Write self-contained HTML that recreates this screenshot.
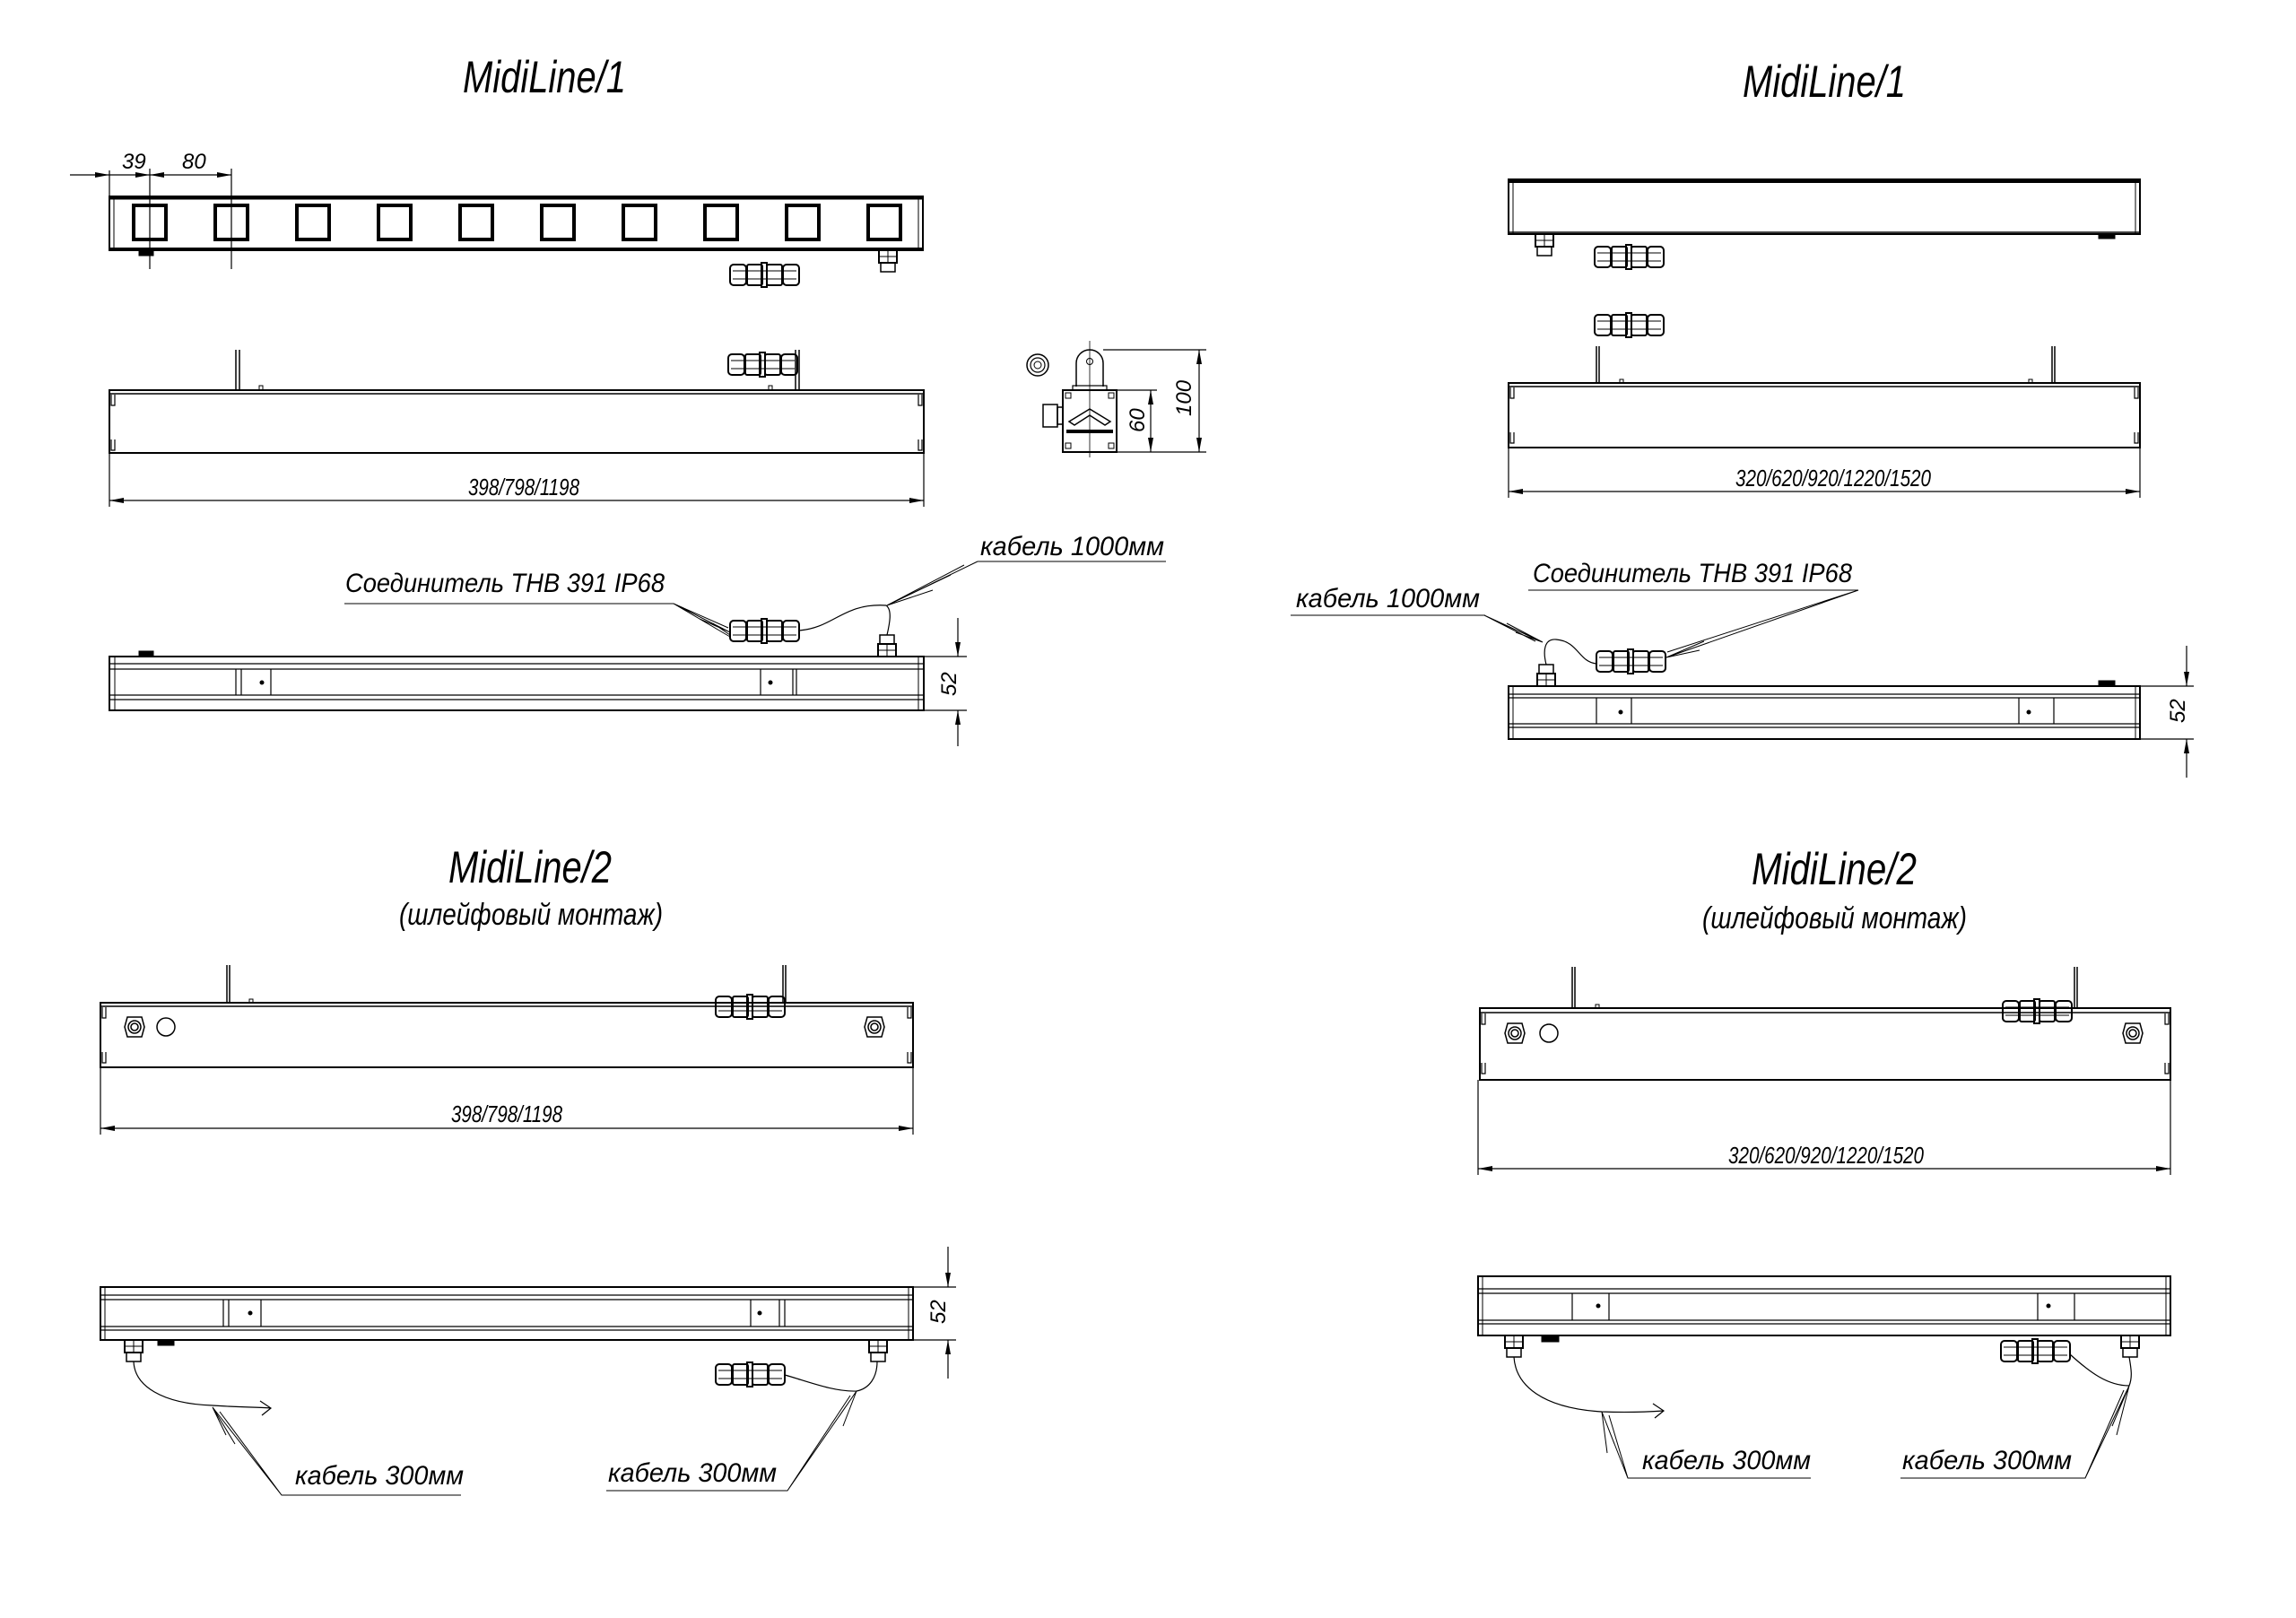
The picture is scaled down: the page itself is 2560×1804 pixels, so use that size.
<!DOCTYPE html>
<html><head><meta charset="utf-8"><style>
html,body{margin:0;padding:0;background:#fff;}
svg{display:block;}
text{font-family:"Liberation Sans Narrow","Liberation Sans",sans-serif;font-style:italic;fill:#000;}
</style></head><body>
<svg width="2560" height="1804" viewBox="0 0 2560 1804" xmlns="http://www.w3.org/2000/svg">
<defs>
<marker id="ar" viewBox="0 0 16 6" refX="16" refY="3" markerWidth="16" markerHeight="6" markerUnits="userSpaceOnUse" orient="auto-start-reverse"><path d="M0,0 L16,3 L0,6 z" fill="#000"/></marker>
<g id="conn" fill="none" stroke="#000">
<rect x="0" y="2" width="18" height="23" rx="4" stroke-width="2"/>
<rect x="19" y="2" width="17" height="23" rx="2" stroke-width="2"/>
<rect x="35" y="0" width="6" height="27" stroke-width="2"/>
<rect x="41" y="2" width="17" height="23" rx="2" stroke-width="2"/>
<rect x="59" y="2" width="18" height="23" rx="4" stroke-width="2"/>
<path d="M3,9H74M3,18H74" stroke-width="1"/>
</g>
<g id="gland" fill="none" stroke="#000">
<rect x="2" y="0" width="16" height="10" stroke-width="1.5"/>
<rect x="0" y="10" width="20" height="14" stroke-width="2"/>
<path d="M0,17H20M10,10V24" stroke-width="1"/>
</g>
<g id="glandU" fill="none" stroke="#000">
<rect x="0" y="0" width="20" height="14" stroke-width="2"/>
<rect x="2" y="14" width="16" height="10" stroke-width="1.5"/>
<path d="M0,7H20M10,0V14" stroke-width="1"/>
</g>
<g id="nut" fill="none" stroke="#000" stroke-width="1.5">
<polygon points="-8,-11 8,-11 11,0 8,11 -8,11 -11,0"/>
<circle r="7"/><circle r="4"/>
</g>
</defs>
<g fill="none" stroke="#000">

<!-- ============ Q1 ============ -->
<text x="516" y="103" font-size="50" textLength="182" lengthAdjust="spacingAndGlyphs" stroke="none">MidiLine/1</text>
<rect x="122" y="219" width="907" height="60" stroke-width="2"/>
<line x1="122" y1="221" x2="1029" y2="221" stroke-width="3"/>
<line x1="122" y1="277" x2="1029" y2="277" stroke-width="2"/>
<line x1="127" y1="219" x2="127" y2="279" stroke-width="1"/>
<line x1="1024" y1="219" x2="1024" y2="279" stroke-width="1"/>
<g stroke-width="4">
<rect x="149" y="229" width="36" height="38"/><rect x="240" y="229" width="36" height="38"/><rect x="331" y="229" width="36" height="38"/><rect x="422" y="229" width="36" height="38"/><rect x="513" y="229" width="36" height="38"/><rect x="604" y="229" width="36" height="38"/><rect x="695" y="229" width="36" height="38"/><rect x="786" y="229" width="36" height="38"/><rect x="877" y="229" width="36" height="38"/><rect x="968" y="229" width="36" height="38"/>
</g>
<rect x="155" y="279" width="16" height="6" fill="#000" stroke-width="1"/>
<use href="#glandU" x="980" y="279"/>
<use href="#conn" x="814" y="293"/>
<g stroke-width="1.2">
<line x1="78" y1="195" x2="122" y2="195" marker-end="url(#ar)"/>
<line x1="122" y1="195" x2="167" y2="195" marker-end="url(#ar)"/>
<line x1="210" y1="195" x2="167" y2="195" marker-end="url(#ar)"/>
<line x1="210" y1="195" x2="258" y2="195" marker-end="url(#ar)"/>
<line x1="122" y1="190" x2="122" y2="219"/>
<line x1="167" y1="188" x2="167" y2="300"/>
<line x1="258" y1="188" x2="258" y2="300"/>
</g>
<text x="136" y="188" font-size="24" stroke="none">39</text>
<text x="203" y="188" font-size="24" stroke="none">80</text>

<rect x="122" y="435" width="908" height="70" stroke-width="2"/>
<line x1="122" y1="439" x2="1030" y2="439" stroke-width="1.5"/>
<path d="M124,440V452H128V440M124,490V502H128V490M1028,440V452H1024V440M1028,490V502H1024V490" stroke-width="1.2"/>
<path d="M263,390V435M267,390V435" stroke-width="1.5"/>
<path d="M887,390V435M891,390V435" stroke-width="1.5"/>
<rect x="289" y="430" width="4" height="5" stroke-width="1"/>
<rect x="857" y="430" width="4" height="5" stroke-width="1"/>
<use href="#conn" x="812" y="393"/>
<g stroke-width="1.2">
<line x1="122" y1="505" x2="122" y2="565"/>
<line x1="1030" y1="505" x2="1030" y2="565"/>
<line x1="584" y1="558" x2="122" y2="558" marker-end="url(#ar)"/>
<line x1="584" y1="558" x2="1030" y2="558" marker-end="url(#ar)"/>
</g>
<text x="522" y="552" font-size="26" textLength="124" lengthAdjust="spacingAndGlyphs" stroke="none">398/798/1198</text>

<circle cx="1157" cy="407" r="12" stroke-width="1.5"/><circle cx="1157" cy="407" r="8" stroke-width="1.2"/><circle cx="1157" cy="407" r="4" stroke-width="1"/>
<path d="M1200,431V405A15,15 0 0 1 1230,405V431" stroke-width="1.5"/>
<circle cx="1215" cy="403" r="3.5" stroke-width="1"/>
<rect x="1196" y="430" width="38" height="5" stroke-width="1.2"/>
<rect x="1185" y="435" width="60" height="69" stroke-width="2"/>
<line x1="1215" y1="380" x2="1215" y2="510" stroke-width="0.8"/>
<path d="M1192,470L1215,456L1238,470L1232,474L1215,463L1198,474Z" stroke-width="1.5"/>
<rect x="1189" y="479" width="52" height="4" fill="#000" stroke="none"/>
<rect x="1188" y="438" width="6" height="6" stroke-width="1"/><rect x="1236" y="438" width="6" height="6" stroke-width="1"/>
<rect x="1188" y="494" width="6" height="6" stroke-width="1"/><rect x="1236" y="494" width="6" height="6" stroke-width="1"/>
<rect x="1163" y="451" width="16" height="25" stroke-width="1.5"/><rect x="1179" y="454" width="6" height="19" stroke-width="1.5"/>
<g stroke-width="1.2">
<line x1="1230" y1="390" x2="1345" y2="390"/>
<line x1="1245" y1="504" x2="1345" y2="504"/>
<line x1="1245" y1="435" x2="1290" y2="435"/>
<line x1="1337" y1="447" x2="1337" y2="390" marker-end="url(#ar)"/>
<line x1="1337" y1="447" x2="1337" y2="504" marker-end="url(#ar)"/>
<line x1="1283" y1="470" x2="1283" y2="435" marker-end="url(#ar)"/>
<line x1="1283" y1="470" x2="1283" y2="504" marker-end="url(#ar)"/>
</g>
<text transform="translate(1328,464) rotate(-90)" font-size="24" stroke="none">100</text>
<text transform="translate(1276,482) rotate(-90)" font-size="24" stroke="none">60</text>

<rect x="122" y="732" width="908" height="60" stroke-width="2"/>
<path d="M122,740H1030M122,746H1030M122,775H1030M122,780H1030" stroke-width="1.3"/>
<path d="M128,732V792M1024,732V792" stroke-width="1"/>
<path d="M263,746V775M269,746V775M302,746V775M848,746V775M884,746V775M888,746V775" stroke-width="1.2"/>
<circle cx="292" cy="761" r="2" fill="#000"/><circle cx="859" cy="761" r="2" fill="#000"/>
<rect x="155" y="726" width="16" height="6" fill="#000" stroke-width="1"/>
<use href="#gland" x="979" y="708"/>
<use href="#conn" x="814" y="690"/>
<path d="M891,703C930,700 940,672 988,675C995,680 992,695 989,708" stroke-width="1.2"/>
<g stroke-width="1.2">
<line x1="1030" y1="732" x2="1078" y2="732"/>
<line x1="1030" y1="792" x2="1078" y2="792"/>
<line x1="1068" y1="689" x2="1068" y2="732" marker-end="url(#ar)"/>
<line x1="1068" y1="832" x2="1068" y2="792" marker-end="url(#ar)"/>
</g>
<text transform="translate(1066,776) rotate(-90)" font-size="24" stroke="none">52</text>
<text x="385" y="660" font-size="30" textLength="356" lengthAdjust="spacingAndGlyphs" stroke="none">Соединитель THB 391 IP68</text>
<g stroke-width="1">
<path d="M384,673H751L814,705M751,673L812,700M751,673L814,710M780,690L812,704M795,695L814,708"/>
<path d="M1090,626H1300M1090,626L989,675M1060,641L989,675M1075,630L989,675M1040,658L989,675"/>
</g>
<text x="1093" y="619" font-size="30" textLength="205" lengthAdjust="spacingAndGlyphs" stroke="none">кабель 1000мм</text>

<!-- ============ Q2 ============ -->
<text x="1943" y="108" font-size="50" textLength="182" lengthAdjust="spacingAndGlyphs" stroke="none">MidiLine/1</text>
<rect x="1682" y="200" width="704" height="61" stroke-width="2"/>
<line x1="1682" y1="202" x2="2386" y2="202" stroke-width="4"/>
<line x1="1682" y1="259" x2="2386" y2="259" stroke-width="1.5"/>
<path d="M1687,200V261M2381,200V261" stroke-width="1"/>
<use href="#glandU" x="1712" y="261"/>
<rect x="2340" y="261" width="18" height="5" fill="#000" stroke-width="1"/>
<use href="#conn" x="1778" y="273"/>
<use href="#conn" x="1778" y="349"/>
<rect x="1682" y="427" width="704" height="72" stroke-width="2"/>
<line x1="1682" y1="431" x2="2386" y2="431" stroke-width="1.5"/>
<path d="M1684,432V444H1688V432M1684,482V494H1688V482M2384,432V444H2380V432M2384,482V494H2380V482" stroke-width="1.2"/>
<path d="M1780,386V427M1783,386V427M2288,386V427M2291,386V427" stroke-width="1.5"/>
<rect x="1806" y="423" width="4" height="4" stroke-width="1"/><rect x="2262" y="423" width="4" height="4" stroke-width="1"/>
<g stroke-width="1.2">
<line x1="1682" y1="499" x2="1682" y2="555"/>
<line x1="2386" y1="499" x2="2386" y2="555"/>
<line x1="2034" y1="548" x2="1682" y2="548" marker-end="url(#ar)"/>
<line x1="2034" y1="548" x2="2386" y2="548" marker-end="url(#ar)"/>
</g>
<text x="1935" y="542" font-size="26" textLength="218" lengthAdjust="spacingAndGlyphs" stroke="none">320/620/920/1220/1520</text>
<rect x="1682" y="765" width="704" height="59" stroke-width="2"/>
<path d="M1682,774H2386M1682,778H2386M1682,807H2386M1682,811H2386" stroke-width="1.3"/>
<path d="M1687,765V824M2381,765V824" stroke-width="1"/>
<path d="M1780,778V807M1819,778V807M2251,778V807M2290,778V807" stroke-width="1.2"/>
<circle cx="1807" cy="794" r="2" fill="#000"/><circle cx="2262" cy="794" r="2" fill="#000"/>
<rect x="2340" y="759" width="18" height="6" fill="#000" stroke-width="1"/>
<use href="#gland" x="1714" y="741"/>
<use href="#conn" x="1780" y="724"/>
<path d="M1724,741C1720,725 1722,712 1735,713C1760,715 1760,738 1780,740" stroke-width="1.2"/>
<g stroke-width="1.2">
<line x1="2386" y1="765" x2="2446" y2="765"/>
<line x1="2386" y1="824" x2="2446" y2="824"/>
<line x1="2438" y1="720" x2="2438" y2="765" marker-end="url(#ar)"/>
<line x1="2438" y1="867" x2="2438" y2="824" marker-end="url(#ar)"/>
</g>
<text transform="translate(2436,806) rotate(-90)" font-size="24" stroke="none">52</text>
<text x="1709" y="649" font-size="30" textLength="356" lengthAdjust="spacingAndGlyphs" stroke="none">Соединитель THB 391 IP68</text>
<text x="1445" y="677" font-size="30" textLength="205" lengthAdjust="spacingAndGlyphs" stroke="none">кабель 1000мм</text>
<g stroke-width="1">
<path d="M1704,658H2072L1858,733M2072,658L1859,727M1900,715L1858,733M1895,725L1858,733"/>
<path d="M1439,686H1655L1720,716M1655,686L1712,715M1680,695L1720,716M1690,705L1720,716"/>
</g>

<!-- ============ Q3 ============ -->
<text x="500" y="984" font-size="50" textLength="182" lengthAdjust="spacingAndGlyphs" stroke="none">MidiLine/2</text>
<text x="445" y="1031" font-size="34" textLength="294" lengthAdjust="spacingAndGlyphs" stroke="none">(шлейфовый монтаж)</text>
<rect x="112" y="1118" width="906" height="72" stroke-width="2"/>
<line x1="112" y1="1122" x2="1018" y2="1122" stroke-width="1.5"/>
<path d="M114,1123V1135H118V1123M114,1173V1185H118V1173M1016,1123V1135H1012V1123M1016,1173V1185H1012V1173" stroke-width="1.2"/>
<path d="M253,1076V1118M256,1076V1118M873,1076V1118M876,1076V1118" stroke-width="1.5"/>
<rect x="278" y="1114" width="4" height="4" stroke-width="1"/>
<use href="#conn" x="798" y="1109"/>
<use href="#nut" x="150" y="1145"/>
<circle cx="185" cy="1145" r="10" stroke-width="1.5"/>
<use href="#nut" x="975" y="1145"/>
<g stroke-width="1.2">
<line x1="112" y1="1190" x2="112" y2="1265"/>
<line x1="1018" y1="1190" x2="1018" y2="1265"/>
<line x1="565" y1="1258" x2="112" y2="1258" marker-end="url(#ar)"/>
<line x1="565" y1="1258" x2="1018" y2="1258" marker-end="url(#ar)"/>
</g>
<text x="503" y="1251" font-size="26" textLength="124" lengthAdjust="spacingAndGlyphs" stroke="none">398/798/1198</text>
<rect x="112" y="1435" width="906" height="59" stroke-width="2"/>
<path d="M112,1444H1018M112,1449H1018M112,1479H1018M112,1483H1018" stroke-width="1.3"/>
<path d="M117,1435V1494M1013,1435V1494" stroke-width="1"/>
<path d="M249,1449V1479M255,1449V1479M291,1449V1479M837,1449V1479M869,1449V1479M875,1449V1479" stroke-width="1.2"/>
<circle cx="279" cy="1464" r="2" fill="#000"/><circle cx="847" cy="1464" r="2" fill="#000"/>
<use href="#glandU" x="139" y="1494"/>
<rect x="176" y="1494" width="18" height="6" fill="#000" stroke-width="1"/>
<use href="#glandU" x="969" y="1494"/>
<use href="#conn" x="798" y="1519"/>
<path d="M149,1518C150,1545 180,1565 237,1567C265,1569 290,1569 302,1570M290,1562L302,1570L292,1578" stroke-width="1.2"/>
<path d="M875,1533C900,1540 930,1552 955,1551C970,1548 978,1535 978,1518" stroke-width="1.2"/>
<g stroke-width="1.2">
<line x1="1018" y1="1435" x2="1066" y2="1435"/>
<line x1="1018" y1="1494" x2="1066" y2="1494"/>
<line x1="1057" y1="1390" x2="1057" y2="1435" marker-end="url(#ar)"/>
<line x1="1057" y1="1537" x2="1057" y2="1494" marker-end="url(#ar)"/>
</g>
<text transform="translate(1054,1476) rotate(-90)" font-size="24" stroke="none">52</text>
<g stroke-width="1">
<path d="M514,1667H314L237,1569M314,1667L245,1574M252,1600L237,1569M262,1610L237,1569"/>
<path d="M676,1662H878L955,1551M878,1662L948,1556M940,1590L955,1551M935,1580L955,1551"/>
</g>
<text x="329" y="1655" font-size="30" textLength="188" lengthAdjust="spacingAndGlyphs" stroke="none">кабель 300мм</text>
<text x="678" y="1652" font-size="30" textLength="188" lengthAdjust="spacingAndGlyphs" stroke="none">кабель 300мм</text>

<!-- ============ Q4 ============ -->
<text x="1953" y="986" font-size="50" textLength="184" lengthAdjust="spacingAndGlyphs" stroke="none">MidiLine/2</text>
<text x="1898" y="1035" font-size="34" textLength="295" lengthAdjust="spacingAndGlyphs" stroke="none">(шлейфовый монтаж)</text>
<rect x="1650" y="1124" width="770" height="80" stroke-width="2"/>
<line x1="1650" y1="1129" x2="2420" y2="1129" stroke-width="1.5"/>
<path d="M1652,1130V1142H1656V1130M1652,1185V1197H1656V1185M2418,1130V1142H2414V1130M2418,1185V1197H2414V1185" stroke-width="1.2"/>
<path d="M1753,1078V1124M1756,1078V1124M2313,1078V1124M2316,1078V1124" stroke-width="1.5"/>
<rect x="1779" y="1120" width="4" height="4" stroke-width="1"/>
<use href="#conn" x="2233" y="1114"/>
<use href="#nut" x="1689" y="1152"/>
<circle cx="1727" cy="1152" r="10" stroke-width="1.5"/>
<use href="#nut" x="2378" y="1152"/>
<g stroke-width="1.2">
<line x1="1648" y1="1204" x2="1648" y2="1310"/>
<line x1="2420" y1="1204" x2="2420" y2="1310"/>
<line x1="2035" y1="1303" x2="1648" y2="1303" marker-end="url(#ar)"/>
<line x1="2035" y1="1303" x2="2420" y2="1303" marker-end="url(#ar)"/>
</g>
<text x="1927" y="1297" font-size="26" textLength="218" lengthAdjust="spacingAndGlyphs" stroke="none">320/620/920/1220/1520</text>
<rect x="1648" y="1423" width="772" height="66" stroke-width="2"/>
<path d="M1648,1437H2420M1648,1442H2420M1648,1472H2420M1648,1476H2420" stroke-width="1.3"/>
<path d="M1653,1423V1489M2415,1423V1489" stroke-width="1"/>
<path d="M1753,1442V1472M1794,1442V1472M2272,1442V1472M2313,1442V1472" stroke-width="1.2"/>
<circle cx="1782" cy="1456" r="2" fill="#000"/><circle cx="2284" cy="1456" r="2" fill="#000"/>
<use href="#glandU" x="1678" y="1489"/>
<rect x="1719" y="1489" width="19" height="7" fill="#000" stroke-width="1"/>
<use href="#glandU" x="2365" y="1489"/>
<use href="#conn" x="2231" y="1493"/>
<path d="M1688,1513C1690,1545 1720,1570 1786,1574C1815,1575 1840,1574 1855,1573M1843,1565L1855,1573L1845,1581" stroke-width="1.2"/>
<path d="M2308,1510C2330,1530 2350,1545 2374,1545C2378,1535 2376,1525 2374,1513" stroke-width="1.2"/>
<g stroke-width="1">
<path d="M2019,1648H1815L1786,1574M1815,1648L1794,1578M1800,1610L1786,1574M1792,1620L1786,1574"/>
<path d="M2119,1648H2325L2374,1545M2325,1648L2368,1550M2355,1590L2374,1545M2360,1600L2374,1545"/>
</g>
<text x="1831" y="1638" font-size="30" textLength="188" lengthAdjust="spacingAndGlyphs" stroke="none">кабель 300мм</text>
<text x="2121" y="1638" font-size="30" textLength="189" lengthAdjust="spacingAndGlyphs" stroke="none">кабель 300мм</text>
</g>
</svg>
</body></html>
